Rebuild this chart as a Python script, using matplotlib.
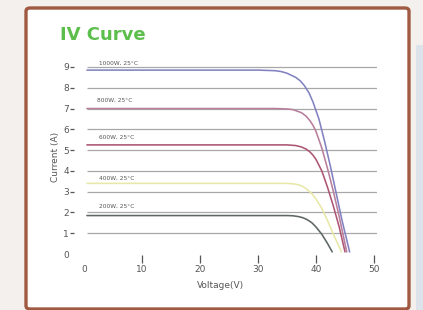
import matplotlib
matplotlib.use("Agg")
import matplotlib.pyplot as plt
from matplotlib.patches import FancyBboxPatch, Rectangle

# ---- data ----
labels = ["1000W, 25°C", "800W, 25°C", "600W, 25°C", "400W, 25°C", "200W, 25°C"]

v_1000 = [0.5, 30, 33, 34, 35, 36.5, 37.3, 38, 38.8, 39.5, 40.5, 41.5, 42.5, 43.5, 44.5, 45.8]
i_1000 = [8.85, 8.85, 8.82, 8.78, 8.7, 8.5, 8.33, 8.1, 7.75, 7.3, 6.5, 5.4, 4.2, 2.9, 1.6, 0.1]

v_800 = [0.5, 33, 35, 36, 37.5, 38.3, 39, 39.5, 40, 41, 42, 43, 44, 45.3]
i_800 = [7.0, 7.0, 6.98, 6.95, 6.8, 6.63, 6.4, 6.18, 5.9, 5.1, 4.1, 3.0, 1.8, 0.1]

v_600 = [0.5, 35, 36.5, 37.5, 38.3, 39, 39.5, 40, 41, 42, 43, 44, 45]
i_600 = [5.25, 5.25, 5.22, 5.15, 5.05, 4.9, 4.75, 4.55, 4.0, 3.2, 2.3, 1.3, 0.1]

v_400 = [0.5, 35, 36, 37, 37.8, 38.5, 39.3, 40, 41, 42, 43, 44.4]
i_400 = [3.4, 3.4, 3.38, 3.33, 3.24, 3.1, 2.9, 2.65, 2.2, 1.6, 0.95, 0.1]

v_200 = [0.5, 35, 36, 37, 37.8, 38.5, 39.3, 40, 41, 42, 42.8]
i_200 = [1.85, 1.85, 1.84, 1.8, 1.74, 1.65, 1.5, 1.3, 0.95, 0.5, 0.1]

label_v = [2.6, 2.3, 2.6, 2.6, 2.6]
label_i = [9.2, 7.4, 5.6, 3.65, 2.3]

x_ticks = [0, 10, 20, 30, 40, 50]
y_ticks = [0, 1, 2, 3, 4, 5, 6, 7, 8, 9]
grid_levels = [1, 2, 3, 4, 5, 6, 7, 8, 9]

colors = ["#8282c2", "#b87e9c", "#ac5674", "#e8e8a8", "#5e6666"]

W, H = 423, 310
fig = plt.figure(figsize=(W / 100, H / 100), dpi=100)
fig.patch.set_facecolor("#f4f0ee")

# right side panel
fig.add_artist(Rectangle((416 / W, 0), 7 / W, 265 / H, transform=fig.transFigure,
                         facecolor="#dde3ea", edgecolor="none", zorder=0))
# framed card
fig.add_artist(FancyBboxPatch((26 / W, 1 / H), 383 / W, 301 / H,
                              boxstyle="round,pad=0,rounding_size=0.01",
                              transform=fig.transFigure, facecolor="white",
                              edgecolor="#a05a42", linewidth=2.4, zorder=1))

x0px, slope = 84, 5.8
ax = fig.add_axes([x0px / W, 56 / H, 50.5 * slope / W, 9.5 * 20.78 / H])
ax.set_zorder(2)
ax.patch.set_alpha(0)
ax.set_xlim(0, 50.5)
ax.set_ylim(0, 9.5)

ax.hlines(grid_levels, 0.6, 50.5, colors="#a8a8a8", linewidth=0.9, zorder=1)

series_v = [v_1000, v_800, v_600, v_400, v_200]
series_i = [i_1000, i_800, i_600, i_400, i_200]
for v, i, c in zip(series_v, series_i, colors):
    ax.plot(v, i, color=c, linewidth=1.15, zorder=3, solid_capstyle="round",
            solid_joinstyle="round")

for lab, lv, li in zip(labels, label_v, label_i):
    ax.text(lv, li, lab, fontsize=4.2, color="#555555", va="center", ha="left", zorder=4)

for s in ax.spines.values():
    s.set_visible(False)

ax.set_xticks(x_ticks)
ax.set_xticklabels([str(t) for t in x_ticks])
ax.set_yticks(y_ticks)
ax.set_yticklabels([str(t) for t in y_ticks])
ax.tick_params(axis="x", direction="out", length=6, width=0.9, color="#555555",
               labelsize=6.5, labelcolor="#555555", pad=1)
ax.tick_params(axis="y", direction="out", length=3, width=0.9, color="#555555",
               labelsize=6.5, labelcolor="#555555", pad=1)
ax.spines["left"].set_position(("outward", 7))
ax.spines["bottom"].set_position(("outward", 1))
ax.xaxis.get_major_ticks()[0].tick1line.set_visible(False)
ax.yaxis.get_major_ticks()[0].tick1line.set_visible(False)

fig.text(55 / W, 1 - 157 / H, "Current (A)", rotation=90, fontsize=6.5,
         color="#555555", ha="center", va="center")
fig.text(220 / W, 1 - 286 / H, "Voltage(V)", fontsize=6.5,
         color="#555555", ha="center", va="center")
fig.text(60 / W, 1 - 34.5 / H, "IV Curve", fontsize=13, fontweight="bold",
         color="#5cbf4c", ha="left", va="center")

fig.savefig("out.png", dpi=100, facecolor=fig.get_facecolor())
